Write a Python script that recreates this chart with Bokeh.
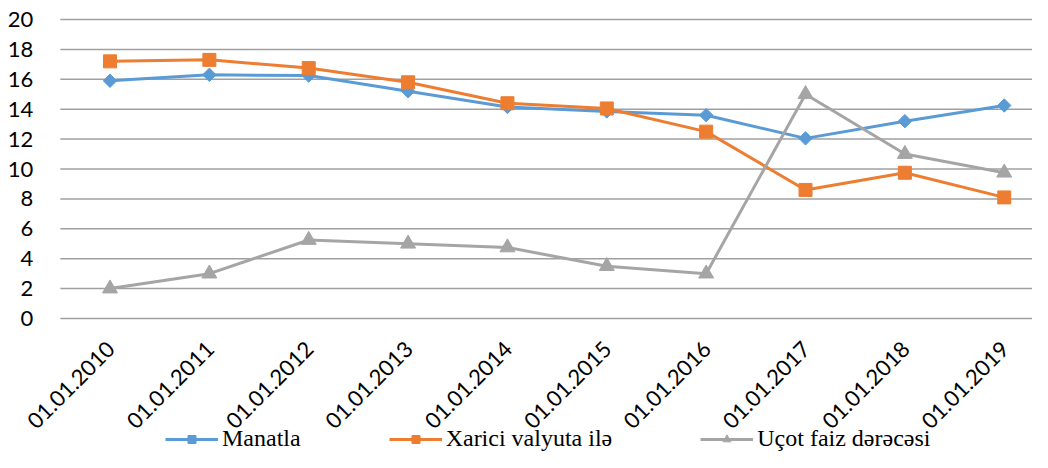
import math
from bokeh.plotting import figure
from bokeh.models import Range1d, Legend, LegendItem
from bokeh.core.properties import value
from bokeh.embed import file_html
from bokeh.resources import INLINE

categories = ["01.01.2010", "01.01.2011", "01.01.2012", "01.01.2013", "01.01.2014",
              "01.01.2015", "01.01.2016", "01.01.2017", "01.01.2018", "01.01.2019"]
manatla = [15.9, 16.3, 16.25, 15.2, 14.15, 13.85, 13.6, 12.05, 13.2, 14.25]
xarici = [17.2, 17.3, 16.75, 15.8, 14.4, 14.05, 12.5, 8.6, 9.75, 8.1]
ucot = [2.0, 3.0, 5.25, 5.0, 4.75, 3.5, 3.0, 15.0, 11.0, 9.75]
y_ticks = [0, 2, 4, 6, 8, 10, 12, 14, 16, 18, 20]
y_labels = [str(t) for t in y_ticks]

xs = list(range(len(categories)))

# the frame covers the whole canvas so that tick labels and legend are never clipped
X0, X1 = -1.1021, 9.2844
Y0, Y1 = -8.963, 21.271

p = figure(width=1032, height=452, output_backend="svg", toolbar_location=None,
           x_range=Range1d(X0, X1), y_range=Range1d(Y0, Y1),
           x_axis_location=None, y_axis_location=None,
           min_border_left=0, min_border_top=0, min_border_right=0, min_border_bottom=0)
p.outline_line_color = None
p.background_fill_color = "white"
p.border_fill_color = "white"
p.xgrid.grid_line_color = None
p.ygrid.grid_line_color = None

# horizontal grid lines at the value ticks
p.segment(x0=-0.5, x1=X1, y0=y_ticks, y1=y_ticks, line_color="#a0a0a0", line_width=1.5)

# value tick labels
p.text(x=-0.5, y=y_ticks, text=y_labels, x_offset=-27, text_align="right",
       text_baseline="middle", text_font=value("Lato"), text_font_size=value("22px"),
       text_color="#000000")

# category tick labels, rotated 45 degrees
p.text(x=xs, y=0, text=categories, angle=math.pi / 4, x_offset=1, y_offset=27,
       text_align="right", text_baseline="middle", text_font=value("Lato"),
       text_font_size=value("22px"), text_color="#000000")

blue, orange, gray = "#5B9BD5", "#ED7D31", "#A5A5A5"

l1 = p.line(xs, manatla, line_color=blue, line_width=3)
m1 = p.scatter(xs, manatla, marker="square", angle=math.pi / 4, size=9.5,
               fill_color=blue, line_color=blue)
l2 = p.line(xs, xarici, line_color=orange, line_width=3)
m2 = p.scatter(xs, xarici, marker="square", size=13, fill_color=orange, line_color=orange)
l3 = p.line(xs, ucot, line_color=gray, line_width=3)
m3 = p.scatter(xs, ucot, marker="triangle", size=15, fill_color=gray, line_color=gray)

legend = Legend(items=[
    LegendItem(label="Manatla", renderers=[l1, m1]),
    LegendItem(label="Xarici valyuta ilə", renderers=[l2, m2]),
    LegendItem(label="Uçot faiz dərəcəsi", renderers=[l3, m3]),
], orientation="horizontal", location=(165, 0),
    label_text_font="Liberation Serif", label_text_font_size="24px",
    label_text_color="#000000",
    glyph_width=53, glyph_height=20, label_standoff=4, spacing=88,
    padding=0, margin=0, border_line_color=None, background_fill_alpha=0)
p.add_layout(legend, "center")

open("out.html", "w").write(file_html(p, INLINE))
